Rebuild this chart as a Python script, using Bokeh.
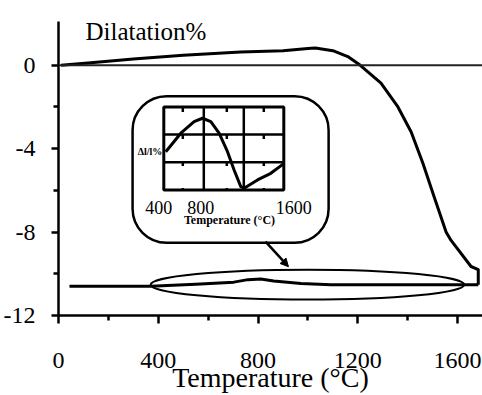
from bokeh.plotting import figure
from bokeh.models import (Range1d, FixedTicker, Label, BoxAnnotation, Arrow,
                          NormalHead, Span)
from bokeh.core.properties import value
from bokeh.embed import file_html
from bokeh.resources import INLINE

# ---------------- data ----------------
# heating branch: temperature (°C) vs dilatation (%)
T_heat = [10, 130, 300, 500, 730, 900, 1000, 1030, 1100, 1160, 1210, 1293,
          1361, 1414, 1461, 1506, 1554, 1574, 1654, 1683, 1683]
D_heat = [0.0, 0.12, 0.30, 0.48, 0.64, 0.70, 0.80, 0.83, 0.70, 0.42, 0.0,
          -0.86, -2.0, -3.2, -4.7, -6.3, -8.0, -8.4, -9.65, -9.8, -10.52]
# cooling branch
T_cool = [1683, 1633, 1400, 1092, 972, 863, 811, 760, 703, 550, 369, 44]
D_cool = [-10.52, -10.52, -10.52, -10.52, -10.47, -10.35, -10.25, -10.28,
          -10.40, -10.50, -10.60, -10.60]

# highlight ellipse around the cooling branch
ELL_X, ELL_Y, ELL_W, ELL_H = [998], [-10.52], [1257], [1.43]

# inset (Δl/l vs temperature)
T_ins = [420, 570, 703, 787, 870, 953, 1037, 1103, 1170, 1203, 1337, 1470, 1603]
D_ins = [1.38, 2.05, 2.47, 2.59, 2.47, 2.05, 1.38, 0.72, 0.12, 0.06, 0.36, 0.60, 0.96]
INS_XGRID = [800, 1200]
INS_YGRID = [1, 2]
INS_DASH = [590, 1030, 1400]
INS_TICKS = [400, 800, 1600]
INS_TICK_LABELS = ["400", "800", "1600"]

X_MAJOR = [0, 400, 800, 1200, 1600]
X_MINOR = [200, 600, 1000, 1400]
Y_MAJOR = [0, -4, -8, -12]
Y_MINOR = [-2, -6, -10]
Y_LABELS = {0: "0", -4: "-4", -8: "-8", -12: "-12"}

SERIF = "Liberation Serif"

# ---------------- figure ----------------
W, H = 482, 395
ML, MT, MB = 58, 21, 79
p = figure(width=W, height=H, output_backend="svg", toolbar_location=None,
           x_range=Range1d(0, 1700), y_range=Range1d(-12, 2.1),
           min_border_left=ML, min_border_right=0, min_border_top=MT,
           min_border_bottom=MB)
p.outline_line_color = None
p.grid.visible = False
p.background_fill_color = "white"

for ax, maj, mnr in ((p.xaxis[0], X_MAJOR, X_MINOR), (p.yaxis[0], Y_MAJOR, Y_MINOR)):
    ax.ticker = FixedTicker(ticks=maj, minor_ticks=mnr)
    ax.axis_line_width = 2.5
    ax.axis_line_color = "black"
    ax.major_tick_line_width = 2.5
    ax.minor_tick_line_width = 2.5
    ax.major_tick_line_color = "black"
    ax.minor_tick_line_color = "black"
    ax.major_tick_in = 0
    ax.minor_tick_in = 0
    ax.major_label_text_font = SERIF
    ax.major_label_text_font_size = "24px"
    ax.major_label_text_color = "black"

p.yaxis.major_label_overrides = Y_LABELS
p.xaxis.major_tick_out = 8
p.xaxis.minor_tick_out = 5
p.xaxis.major_label_standoff = 29
p.xaxis.axis_label = "Temperature (°C)"
p.xaxis.axis_label_text_font = SERIF
p.xaxis.axis_label_text_font_size = "28px"
p.xaxis.axis_label_text_font_style = "normal"
p.xaxis.axis_label_text_color = "black"
p.xaxis.axis_label_standoff = -9
p.yaxis.major_tick_out = 7
p.yaxis.minor_tick_out = 5
p.yaxis.major_label_standoff = 16

# zero line
p.add_layout(Span(location=0, dimension="width", line_color="#222222", line_width=2))

# main curve
p.line(T_heat, D_heat, line_color="black", line_width=3, line_join="round")
p.line(T_cool, D_cool, line_color="black", line_width=3, line_join="round")

# ellipse highlight
p.ellipse(x=ELL_X, y=ELL_Y, width=ELL_W, height=ELL_H, fill_alpha=0,
          line_color="black", line_width=2)

# rounded inset box and arrow
p.add_layout(BoxAnnotation(left=297, right=1083, top=-1.48, bottom=-8.51,
                           border_radius=34, fill_alpha=0, line_color="black",
                           line_width=2.5, line_alpha=1))
p.add_layout(Arrow(end=NormalHead(size=8, fill_color="black", line_color="black"),
                   x_start=830, y_start=-8.46, x_end=922, y_end=-9.66,
                   line_color="black", line_width=2.5))

# ---------------- inset via extra ranges ----------------
FL, FR, FT, FB = 58.0, 482.0, 21.0, 316.0      # main frame in page px
IL, IR, IT, IB = 163.3, 283.3, 106.7, 190.0     # inset box in page px
kx = (1600 - 400) / (IR - IL)
ky = (3 - 0) / (IB - IT)
p.extra_x_ranges = {"ix": Range1d(400 - (IL - FL) * kx, 1600 + (FR - IR) * kx)}
p.extra_y_ranges = {"iy": Range1d(0 - (FB - IB) * ky, 3 + (IT - FT) * ky)}
kw = dict(x_range_name="ix", y_range_name="iy")

p.segment(x0=INS_DASH, y0=[3] * len(INS_DASH), x1=INS_DASH, y1=[0] * len(INS_DASH),
          line_color="black", line_width=2.5, line_dash="5 22", **kw)
p.segment(x0=INS_XGRID, y0=[0] * 2, x1=INS_XGRID, y1=[3] * 2,
          line_color="black", line_width=2.5, **kw)
p.segment(x0=[400] * 2, y0=INS_YGRID, x1=[1600] * 2, y1=INS_YGRID,
          line_color="black", line_width=2.5, **kw)
p.quad(left=[400], right=[1600], bottom=[0], top=[3], fill_alpha=0,
       line_color="black", line_width=3, **kw)
p.line(T_ins, D_ins, line_color="black", line_width=3, line_join="round", **kw)

p.text(x=INS_TICKS, y=[-0.65] * 3, text=INS_TICK_LABELS, text_font=value(SERIF),
       text_font_size="18px", text_align="center", text_baseline="alphabetic",
       x_offset=[-5, -3, 10], text_color="black", **kw)
p.text(x=[1057], y=[-1.1], text=["Temperature (°C)"], text_font=value(SERIF),
       text_font_size="12px", text_font_style="bold", text_align="center",
       text_baseline="alphabetic", text_color="black", **kw)
p.text(x=[385], y=[1.38], text=["Δl/l%"], text_font=value(SERIF),
       text_font_size="10px", text_font_style="bold", text_align="right",
       text_baseline="middle", text_color="black", **kw)

# ---------------- title text ----------------
p.add_layout(Label(x=108, y=1.64, text="Dilatation%", text_font=SERIF,
                   text_font_size="25px", text_baseline="alphabetic",
                   text_color="black"))

open("out.html", "w").write(file_html(p, INLINE))
